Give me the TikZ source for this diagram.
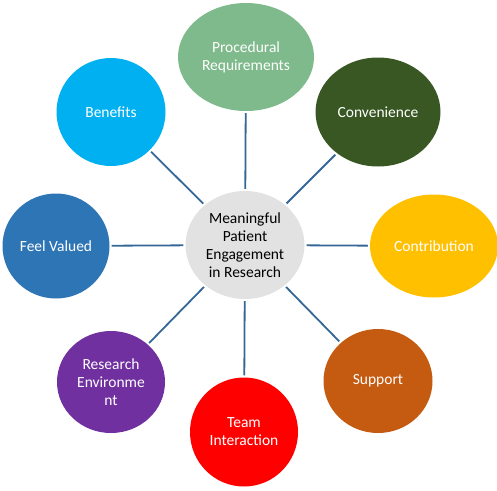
\documentclass[tikz,border=0pt]{standalone}
\usepackage{fontspec}
\setmainfont{Carlito}
\usepackage{tikz}
\usetikzlibrary{shapes.geometric}
\usepackage{xcolor}

\definecolor{hubgray}{RGB}{226,226,226}
\definecolor{procgreen}{RGB}{127,186,140}
\definecolor{convgreen}{RGB}{56,87,35}
\definecolor{contrgold}{RGB}{255,192,0}
\definecolor{supporange}{RGB}{197,90,17}
\definecolor{teamred}{RGB}{255,0,0}
\definecolor{envpurple}{RGB}{112,48,160}
\definecolor{feelblue}{RGB}{46,117,182}
\definecolor{benecyan}{RGB}{0,176,240}
\definecolor{spoke}{RGB}{52,102,150}

\begin{document}
\begin{tikzpicture}[x=1pt, y=-1pt,
    every node/.style={ellipse, inner sep=0pt, align=center, text=white,
        font=\fontsize{15.5}{18}\selectfont},
    spokeline/.style={draw=spoke, line width=1.8pt, shorten <=2pt, shorten >=2pt}]
    \useasboundingbox (0,0) rectangle (497,490);

    % Nodes

    \node[fill=hubgray, text=black, minimum width=119pt, minimum height=108pt] (hub) at (245,245) {Meaningful\\Patient\\Engagement\\in Research};
    \node[fill=procgreen, minimum width=136pt, minimum height=108pt] (proc) at (246,57) {Procedural\\Requirements};
    \node[fill=convgreen, minimum width=125pt, minimum height=109pt] (conv) at (378,112) {Convenience};
    \node[fill=contrgold, minimum width=128pt, minimum height=103pt] (contr) at (434,246) {Contribution};
    \node[fill=supporange, minimum width=109pt, minimum height=104pt] (supp) at (378,381) {Support};
    \node[fill=teamred, minimum width=108pt, minimum height=109pt] (team) at (244,432) {Team\\Interaction};
    \node[fill=envpurple, minimum width=108pt, minimum height=102pt] (resenv) at (111,382) {Research\\Environme\\nt};
    \node[fill=feelblue, minimum width=107pt, minimum height=105pt] (feel) at (56,246) {Feel Valued};
    \node[fill=benecyan, minimum width=109pt, minimum height=108pt] (bene) at (111,112) {Benefits};

    % Edges

    \draw[spokeline] (hub) -- (proc);
    \draw[spokeline] (hub) -- (conv);
    \draw[spokeline] (hub) -- (contr);
    \draw[spokeline] (hub) -- (supp);
    \draw[spokeline] (hub) -- (team);
    \draw[spokeline] (hub) -- (resenv);
    \draw[spokeline] (hub) -- (feel);
    \draw[spokeline] (hub) -- (bene);

\end{tikzpicture}
\end{document}
